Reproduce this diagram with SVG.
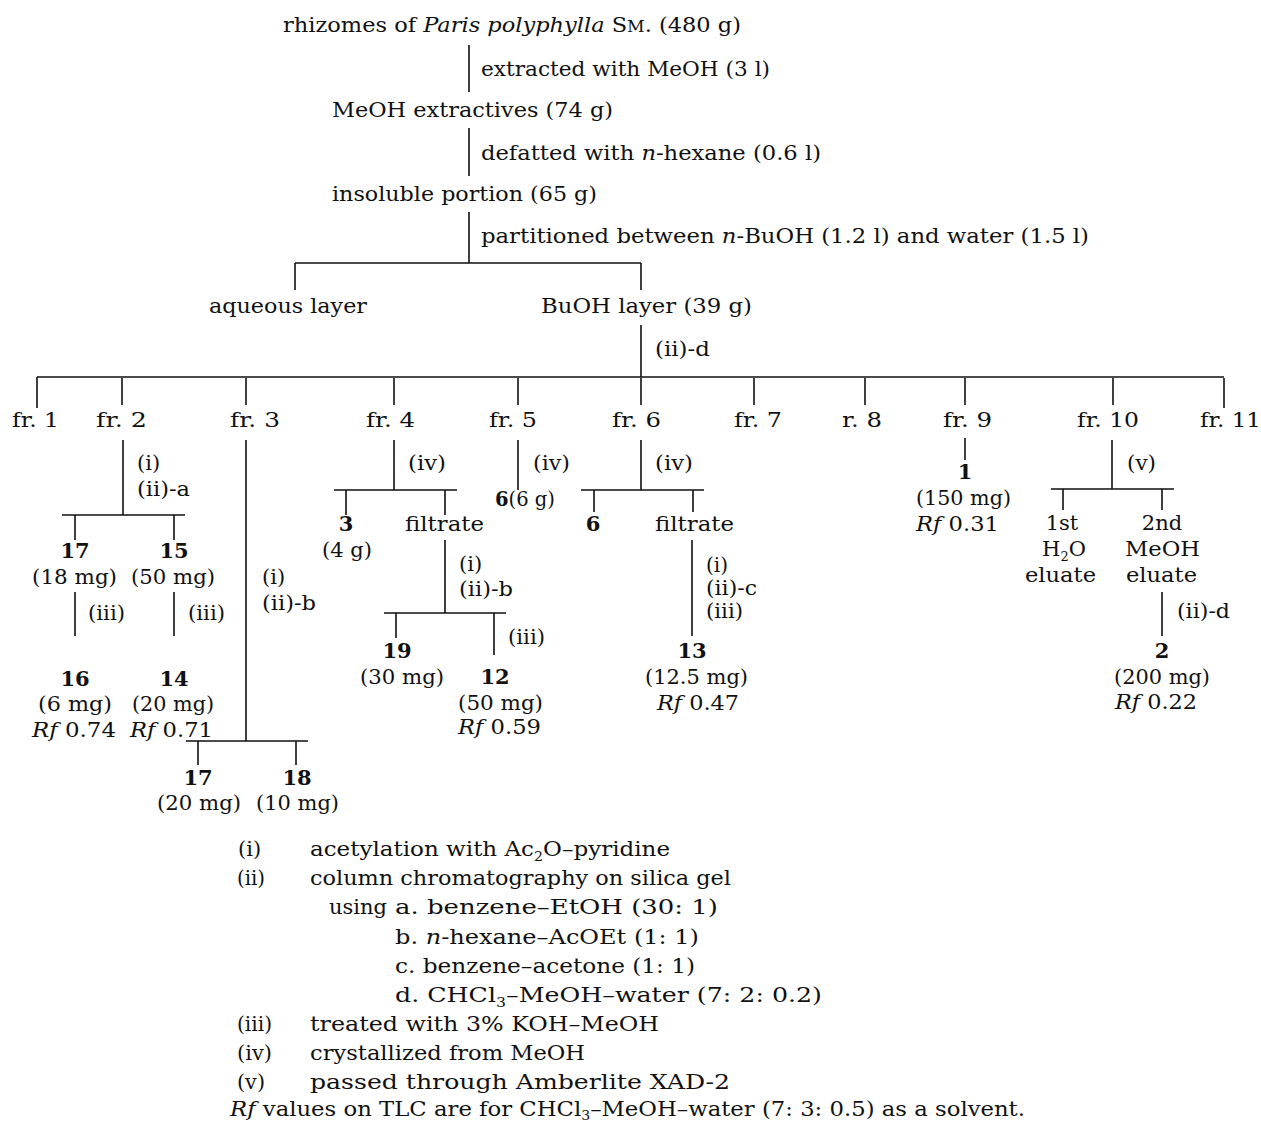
<svg xmlns="http://www.w3.org/2000/svg" width="1261" height="1122" viewBox="0 0 1261 1122">
<style>
text{font-family:"DejaVu Serif","Liberation Serif",serif;font-size:21px;fill:#111}
.b{font-weight:bold}
.i{font-style:italic}
.m{text-anchor:middle}
.ln{stroke:#111;stroke-width:1.6;fill:none}
.sub{font-size:13px}
.sc{font-size:16px}
.s{font-size:20px}
</style>
<rect width="1261" height="1122" fill="#fff"/>
<g id="connectors" class="ln">
<path d="M469 45V92M469 128V176M469 212V263M295 263H641M295 263V290M641 263V290"/>
<path d="M641 325V377M37 377H1224"/>
<path d="M37 377V408M122 378V405M246 378V405M394 378V405M518 378V405M641 378V405M754 378V405M865 378V405M965 378V405M1113 378V405M1224 378V408"/>
<path d="M123 440V515M62 515H185M75 515V540M174 515V540M75 592V636M174 592V636"/>
<path d="M246 440V741M186 741H308M198 741V765M296 741V765"/>
<path d="M394 440V490M334 490H457M346 490V515M445 490V515M445 540V613M384 613H506M396 613V638M494 613V655"/>
<path d="M518 440V490"/>
<path d="M641 440V490M581 490H704M594 490V512M693 490V512M692 540V636"/>
<path d="M965 438V460"/>
<path d="M1112 440V489M1051 489H1174M1063 489V510M1162 489V510M1162 592V636"/>
</g>
<g id="n-rhizomes"><text x="283" y="32" textLength="458" lengthAdjust="spacingAndGlyphs">rhizomes of <tspan class="i">Paris polyphylla</tspan> S<tspan class="sc">M</tspan>. (480 g)</text></g>
<g id="e1"><text x="481" y="76" textLength="289" lengthAdjust="spacingAndGlyphs">extracted with MeOH (3 l)</text></g>
<g id="n-meoh"><text x="332" y="117" textLength="281" lengthAdjust="spacingAndGlyphs">MeOH extractives (74 g)</text></g>
<g id="e2"><text x="481" y="160" textLength="340" lengthAdjust="spacingAndGlyphs">defatted with <tspan class="i">n</tspan>-hexane (0.6 l)</text></g>
<g id="n-insol"><text x="332" y="201" textLength="265" lengthAdjust="spacingAndGlyphs">insoluble portion (65 g)</text></g>
<g id="e3"><text x="481" y="243" textLength="608" lengthAdjust="spacingAndGlyphs">partitioned between <tspan class="i">n</tspan>-BuOH (1.2 l) and water (1.5 l)</text></g>
<g id="n-aq"><text x="209" y="313" textLength="158" lengthAdjust="spacingAndGlyphs">aqueous layer</text></g>
<g id="n-buoh"><text x="541" y="313" textLength="211" lengthAdjust="spacingAndGlyphs">BuOH layer (39 g)</text></g>
<g id="e4"><text x="655" y="356" textLength="55" lengthAdjust="spacingAndGlyphs">(ii)-d</text></g>
<g id="fractions">
<text x="12" y="427" textLength="47" lengthAdjust="spacingAndGlyphs">fr. 1</text>
<text x="96" y="427" textLength="51" lengthAdjust="spacingAndGlyphs">fr. 2</text>
<text x="230" y="427" textLength="50" lengthAdjust="spacingAndGlyphs">fr. 3</text>
<text x="366" y="427" textLength="49" lengthAdjust="spacingAndGlyphs">fr. 4</text>
<text x="489" y="427" textLength="48" lengthAdjust="spacingAndGlyphs">fr. 5</text>
<text x="612" y="427" textLength="49" lengthAdjust="spacingAndGlyphs">fr. 6</text>
<text x="734" y="427" textLength="48" lengthAdjust="spacingAndGlyphs">fr. 7</text>
<text x="842" y="427" textLength="40" lengthAdjust="spacingAndGlyphs">r. 8</text>
<text x="943" y="427" textLength="49" lengthAdjust="spacingAndGlyphs">fr. 9</text>
<text x="1077" y="427" textLength="62" lengthAdjust="spacingAndGlyphs">fr. 10</text>
<text x="1200" y="427" textLength="61" lengthAdjust="spacingAndGlyphs">fr. 11</text>
</g>
<g id="fr2-branch">
<text x="137" y="470">(i)</text>
<text x="137" y="496" textLength="53" lengthAdjust="spacingAndGlyphs">(ii)-a</text>
<text class="b m" x="75" y="558">17</text>
<text class="b m" x="174" y="558">15</text>
<text x="32" y="584" textLength="85" lengthAdjust="spacingAndGlyphs">(18 mg)</text>
<text x="131" y="584" textLength="84" lengthAdjust="spacingAndGlyphs">(50 mg)</text>
<text x="88" y="620" textLength="37" lengthAdjust="spacingAndGlyphs">(iii)</text>
<text x="188" y="620" textLength="37" lengthAdjust="spacingAndGlyphs">(iii)</text>
<text class="b m" x="75" y="686">16</text>
<text class="b m" x="174" y="686">14</text>
<text x="38" y="711" textLength="74" lengthAdjust="spacingAndGlyphs">(6 mg)</text>
<text x="132" y="711" textLength="82" lengthAdjust="spacingAndGlyphs">(20 mg)</text>
<text x="32" y="737" textLength="84" lengthAdjust="spacingAndGlyphs"><tspan class="i">Rf</tspan> 0.74</text>
<text x="130" y="737" textLength="83" lengthAdjust="spacingAndGlyphs"><tspan class="i">Rf</tspan> 0.71</text>
</g>
<g id="fr3-branch">
<text x="262" y="584">(i)</text>
<text x="262" y="610" textLength="54" lengthAdjust="spacingAndGlyphs">(ii)-b</text>
<text class="b m" x="198" y="785">17</text>
<text class="b m" x="297" y="785">18</text>
<text x="157" y="810" textLength="84" lengthAdjust="spacingAndGlyphs">(20 mg)</text>
<text x="256" y="810" textLength="83" lengthAdjust="spacingAndGlyphs">(10 mg)</text>
</g>
<g id="fr4-branch">
<text x="408" y="470" textLength="38" lengthAdjust="spacingAndGlyphs">(iv)</text>
<text class="b m" x="346" y="531">3</text>
<text x="405" y="531" textLength="79" lengthAdjust="spacingAndGlyphs">filtrate</text>
<text x="322" y="557" textLength="50" lengthAdjust="spacingAndGlyphs">(4 g)</text>
<text x="459" y="571">(i)</text>
<text x="459" y="596" textLength="54" lengthAdjust="spacingAndGlyphs">(ii)-b</text>
<text x="508" y="644" textLength="37" lengthAdjust="spacingAndGlyphs">(iii)</text>
<text class="b m" x="397" y="658">19</text>
<text x="360" y="684" textLength="84" lengthAdjust="spacingAndGlyphs">(30 mg)</text>
<text class="b m" x="495" y="684">12</text>
<text x="458" y="710" textLength="85" lengthAdjust="spacingAndGlyphs">(50 mg)</text>
<text x="458" y="734" textLength="83" lengthAdjust="spacingAndGlyphs"><tspan class="i">Rf</tspan> 0.59</text>
</g>
<g id="fr5-branch">
<text x="533" y="470" textLength="37" lengthAdjust="spacingAndGlyphs">(iv)</text>
<text x="495" y="506" textLength="60" lengthAdjust="spacingAndGlyphs"><tspan class="b">6</tspan>(6 g)</text>
</g>
<g id="fr6-branch">
<text x="655" y="470" textLength="38" lengthAdjust="spacingAndGlyphs">(iv)</text>
<text class="b m" x="593" y="531">6</text>
<text x="655" y="531" textLength="79" lengthAdjust="spacingAndGlyphs">filtrate</text>
<text class="s" x="706" y="572">(i)</text>
<text class="s" x="706" y="595" textLength="51" lengthAdjust="spacingAndGlyphs">(ii)-c</text>
<text class="s" x="706" y="618" textLength="37" lengthAdjust="spacingAndGlyphs">(iii)</text>
<text class="b m" x="692" y="658">13</text>
<text x="645" y="684" textLength="103" lengthAdjust="spacingAndGlyphs">(12.5 mg)</text>
<text x="657" y="710" textLength="82" lengthAdjust="spacingAndGlyphs"><tspan class="i">Rf</tspan> 0.47</text>
</g>
<g id="fr9-branch">
<text class="b m" x="965" y="479">1</text>
<text x="916" y="505" textLength="95" lengthAdjust="spacingAndGlyphs">(150 mg)</text>
<text x="916" y="531" textLength="83" lengthAdjust="spacingAndGlyphs"><tspan class="i">Rf</tspan> 0.31</text>
</g>
<g id="fr10-branch">
<text x="1127" y="470" textLength="29" lengthAdjust="spacingAndGlyphs">(v)</text>
<text class="m" x="1062" y="530">1st</text>
<text class="m" x="1064" y="556">H<tspan class="sub" dy="5">2</tspan><tspan dy="-5">O</tspan></text>
<text x="1025" y="582" textLength="71" lengthAdjust="spacingAndGlyphs">eluate</text>
<text class="m" x="1162" y="530">2nd</text>
<text x="1125" y="556" textLength="75" lengthAdjust="spacingAndGlyphs">MeOH</text>
<text x="1126" y="582" textLength="71" lengthAdjust="spacingAndGlyphs">eluate</text>
<text x="1177" y="618" textLength="53" lengthAdjust="spacingAndGlyphs">(ii)-d</text>
<text class="b m" x="1162" y="658">2</text>
<text x="1114" y="684" textLength="96" lengthAdjust="spacingAndGlyphs">(200 mg)</text>
<text x="1115" y="709" textLength="82" lengthAdjust="spacingAndGlyphs"><tspan class="i">Rf</tspan> 0.22</text>
</g>
<g id="legend">
<text x="238" y="856">(i)</text>
<text x="310" y="856" textLength="360" lengthAdjust="spacingAndGlyphs">acetylation with Ac<tspan class="sub" dy="5">2</tspan><tspan dy="-5">O–pyridine</tspan></text>
<text x="237" y="885" textLength="28" lengthAdjust="spacingAndGlyphs">(ii)</text>
<text x="310" y="885" textLength="421" lengthAdjust="spacingAndGlyphs">column chromatography on silica gel</text>
<text x="329" y="914">using</text>
<text x="395" y="914" textLength="323" lengthAdjust="spacingAndGlyphs">a. benzene–EtOH (30: 1)</text>
<text x="395" y="944" textLength="304" lengthAdjust="spacingAndGlyphs">b. <tspan class="i">n</tspan>-hexane–AcOEt (1: 1)</text>
<text x="395" y="973" textLength="300" lengthAdjust="spacingAndGlyphs">c. benzene–acetone (1: 1)</text>
<text x="395" y="1002" textLength="427" lengthAdjust="spacingAndGlyphs">d. CHCl<tspan class="sub" dy="5">3</tspan><tspan dy="-5">–MeOH–water (7: 2: 0.2)</tspan></text>
<text x="237" y="1031" textLength="35" lengthAdjust="spacingAndGlyphs">(iii)</text>
<text x="310" y="1031" textLength="349" lengthAdjust="spacingAndGlyphs">treated with 3% KOH–MeOH</text>
<text x="237" y="1060" textLength="35" lengthAdjust="spacingAndGlyphs">(iv)</text>
<text x="310" y="1060" textLength="275" lengthAdjust="spacingAndGlyphs">crystallized from MeOH</text>
<text x="237" y="1089" textLength="28" lengthAdjust="spacingAndGlyphs">(v)</text>
<text x="310" y="1089" textLength="420" lengthAdjust="spacingAndGlyphs">passed through Amberlite XAD-2</text>
<text x="230" y="1116" textLength="795" lengthAdjust="spacingAndGlyphs"><tspan class="i">Rf</tspan> values on TLC are for CHCl<tspan class="sub" dy="4">3</tspan><tspan dy="-4">–MeOH–water (7: 3: 0.5) as a solvent.</tspan></text>
</g>
</svg>
